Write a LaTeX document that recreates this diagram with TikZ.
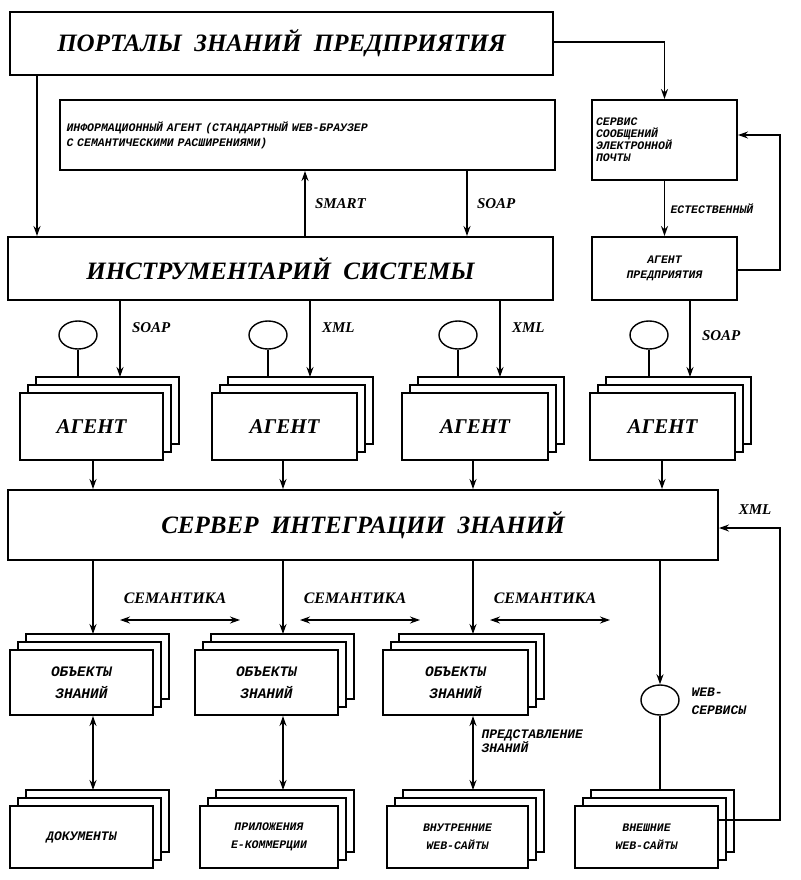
\documentclass[tikz,border=0pt]{standalone}
\usepackage{fontspec}
\setmainfont{Liberation Serif}
\newfontfamily\mfont{Liberation Mono}
\usetikzlibrary{positioning, shapes, arrows.meta}

\tikzset{
  box/.style={draw, line width=2pt, fill=white, align=center, inner sep=2pt},
  big/.style={font=\bfseries\itshape\fontsize{25}{27}\selectfont},
  mid/.style={font=\bfseries\itshape\fontsize{21}{23}\selectfont},
  small/.style={font=\mfont\bfseries\itshape\fontsize{11.5}{15}\selectfont, align=left},
  lbl/.style={font=\bfseries\itshape\fontsize{15}{17}\selectfont},
  arr/.style={-{Stealth[length=10pt,width=7pt]}, line width=1.4pt},
  darr/.style={{Stealth[length=10pt,width=7pt]}-{Stealth[length=10pt,width=7pt]}, line width=1.4pt},
  oval/.style={draw, ellipse, line width=1.4pt, minimum width=38pt, minimum height=28pt, fill=white}
}

% stacked box: name, x1, y1, x2, y2, style, text
\newcommand{\stackbox}[7]{
  \draw[line width=2pt, fill=white] (#2+16,#3-16) rectangle (#4+16,#5-16);
  \draw[line width=2pt, fill=white] (#2+8,#3-8) rectangle (#4+8,#5-8);
  \node[box, #6, minimum width=#4-#2, minimum height=#5-#3] (#1) at ({(#2+#4)/2},{(#3+#5)/2}) {#7};
}

\begin{document}
\begin{tikzpicture}[x=1pt, y=-1pt]
  \useasboundingbox (0,0) rectangle (800,880);

  % top part
  \node[box, big, minimum width=543, minimum height=63] (portal) at (281.5,43.5) {ПОРТАЛЫ\ \ ЗНАНИЙ\ \ ПРЕДПРИЯТИЯ};
  \node[box, small, minimum width=495, minimum height=70, text width=482] (info) at (307.5,135)
    {ИНФОРМАЦИОННЫЙ АГЕНТ (СТАНДАРТНЫЙ WEB-БРАУЗЕР\\С СЕМАНТИЧЕСКИМИ РАСШИРЕНИЯМИ)};
  \node[box, small, minimum width=145, minimum height=80, text width=137] (mail) at (664.5,140)
    {СЕРВИС\\[-3pt]СООБЩЕНИЙ\\[-3pt]ЭЛЕКТРОННОЙ\\[-3pt]ПОЧТЫ};
  \node[box, big, minimum width=545, minimum height=63] (tools) at (280.5,268.5) {ИНСТРУМЕНТАРИЙ\ \ СИСТЕМЫ};
  \node[box, small, align=center, minimum width=145, minimum height=63] (entagent) at (664.5,268.5)
    {АГЕНТ\\ПРЕДПРИЯТИЯ};

  \draw[arr] (portal.east |- 0,42) -| (mail.north);
  \draw[arr] (portal.south -| 37,0) -- (tools.north -| 37,0);
  \draw[arr] (tools.north -| 305,0) -- node[lbl, right=6pt] {SMART} (info.south -| 305,0);
  \draw[arr] (info.south -| 467,0) -- node[lbl, right=6pt] {SOAP} (tools.north -| 467,0);
  \draw[arr] (mail.south) -- node[small, right=2pt] {ЕСТЕСТВЕННЫЙ} (entagent.north);
  \draw[arr] (entagent.east |- 0,270) -- (780,270) -- (780,135) -- (mail.east |- 0,135);

  % agents
  \stackbox{ag1}{20}{393}{163}{460}{mid}{АГЕНТ}
  \stackbox{ag2}{212}{393}{357}{460}{mid}{АГЕНТ}
  \stackbox{ag3}{402}{393}{548}{460}{mid}{АГЕНТ}
  \stackbox{ag4}{590}{393}{735}{460}{mid}{АГЕНТ}
  \foreach \x/\n in {78/1,268/2,458/3,649/4} {
    \node[oval] (ov\n) at (\x,335) {};
    \draw[line width=1.4pt] (ov\n.south) -- (\x,377);
  }
  \draw[arr] (tools.south -| 120,0) -- node[lbl, right=8pt, pos=0.35] {SOAP} (120,377);
  \draw[arr] (tools.south -| 310,0) -- node[lbl, right=8pt, pos=0.35] {XML} (310,377);
  \draw[arr] (tools.south -| 500,0) -- node[lbl, right=8pt, pos=0.35] {XML} (500,377);
  \draw[arr] (entagent.south -| 690,0) -- node[lbl, right=8pt, pos=0.45] {SOAP} (690,377);

  % server
  \node[box, big, minimum width=710, minimum height=70] (server) at (363,525) {СЕРВЕР\ \ ИНТЕГРАЦИИ\ \ ЗНАНИЙ};
  \foreach \x/\n in {93/1,283/2,473/3,662/4}
    \draw[arr] (ag\n.south -| \x,0) -- (server.north -| \x,0);

  % semantics
  \foreach \x in {120,300,490} {
    \node[lbl, font=\bfseries\itshape\fontsize{16}{18}\selectfont] at (\x+55,598) {СЕМАНТИКА};
    \draw[darr] (\x,620) -- (\x+120,620);
  }

  % knowledge objects
  \stackbox{ob1}{10}{650}{153}{715}{font=\mfont\bfseries\itshape\fontsize{14.5}{22}\selectfont}{ОБЪЕКТЫ\\ЗНАНИЙ}
  \stackbox{ob2}{195}{650}{338}{715}{font=\mfont\bfseries\itshape\fontsize{14.5}{22}\selectfont}{ОБЪЕКТЫ\\ЗНАНИЙ}
  \stackbox{ob3}{383}{650}{528}{715}{font=\mfont\bfseries\itshape\fontsize{14.5}{22}\selectfont}{ОБЪЕКТЫ\\ЗНАНИЙ}
  \foreach \x/\n in {93/1,283/2,473/3}
    \draw[arr] (server.south -| \x,0) -- (\x,634);

  % bottom row
  \stackbox{bt1}{10}{806}{153}{868}{font=\mfont\bfseries\itshape\fontsize{13}{18}\selectfont}{ДОКУМЕНТЫ}
  \stackbox{bt2}{200}{806}{338}{868}{font=\mfont\bfseries\itshape\fontsize{11.5}{18}\selectfont}{ПРИЛОЖЕНИЯ\\E-КОММЕРЦИИ}
  \stackbox{bt3}{387}{806}{528}{868}{font=\mfont\bfseries\itshape\fontsize{11.5}{18}\selectfont}{ВНУТРЕННИЕ\\WEB-САЙТЫ}
  \stackbox{bt4}{575}{806}{718}{868}{font=\mfont\bfseries\itshape\fontsize{11.5}{18}\selectfont}{ВНЕШНИЕ\\WEB-САЙТЫ}
  \draw[darr] (ob1.south -| 93,0) -- (93,790);
  \draw[darr] (ob2.south -| 283,0) -- (283,790);
  \draw[darr] (ob3.south -| 473,0) -- (473,790);
  \node[small, anchor=north west, font=\mfont\bfseries\itshape\fontsize{13}{16}\selectfont] at (478,726) {ПРЕДСТАВЛЕНИЕ\\[-2pt]ЗНАНИЙ};

  % web services
  \node[oval, minimum height=30pt] (web) at (660,700) {};
  \draw[arr] (server.south -| 660,0) -- (web.north);
  \draw[line width=1.4pt] (web.south) -- (660,790);
  \node[small, anchor=north west, font=\mfont\bfseries\itshape\fontsize{13}{16}\selectfont] at (688,684) {WEB-\\[2pt]СЕРВИСЫ};
  \draw[arr] (bt4.east |- 0,820) -- (780,820) -- (780,528) -- (server.east |- 0,528);
  \node[lbl] at (755,510) {XML};
\end{tikzpicture}
\end{document}
